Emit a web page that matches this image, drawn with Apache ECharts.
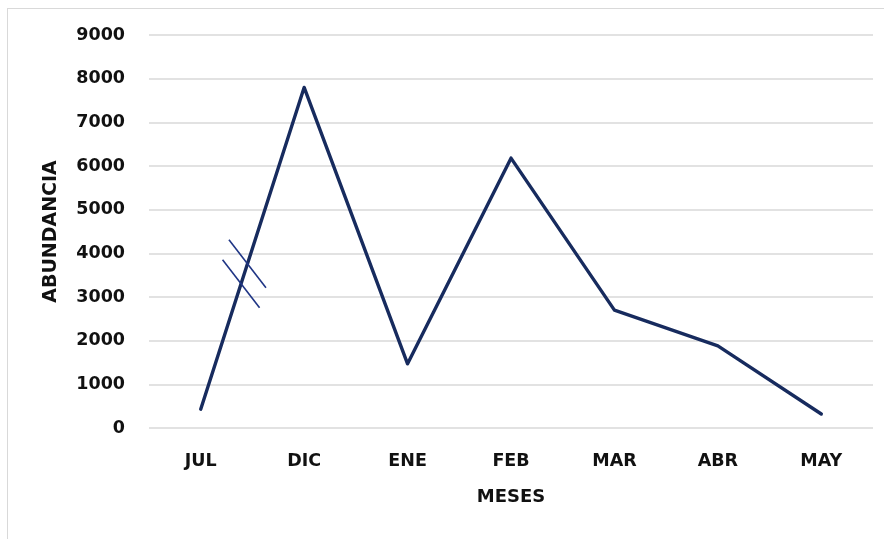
<!DOCTYPE html>
<html>
<head>
<meta charset="utf-8">
<script src="https://cdn.jsdelivr.net/npm/echarts@6/dist/echarts.min.js"></script>
<style>
  html, body { margin: 0; padding: 0; background: #fff; }
  #frame { position: absolute; left: 7px; top: 8px; width: 900px; height: 560px; border: 1px solid #d9d9d9; box-sizing: border-box; }
  #chart { position: absolute; left: 0; top: 0; width: 884px; height: 539px; }
</style>
</head>
<body>
<div id="frame"></div>
<div id="chart"></div>
<script>
// Monthly abundance
const months = ['JUL', 'DIC', 'ENE', 'FEB', 'MAR', 'ABR', 'MAY'];
const abundance = [430, 7800, 1470, 6180, 2700, 1880, 320];
const yTicks = { min: 0, max: 9000, interval: 1000 };

const FONT = '"DejaVu Sans"';
const TEXT = '#111';
const LINE_COLOR = '#172b5e';

const chart = echarts.init(document.getElementById('chart'), null, { renderer: 'canvas' });
chart.setOption({
  backgroundColor: 'transparent',
  animation: false,
  grid: { left: 149, right: 11, top: 35, bottom: 111, containLabel: false },
  xAxis: {
    type: 'category',
    data: months,
    boundaryGap: true,
    name: 'MESES',
    nameLocation: 'middle',
    nameGap: 60,
    nameTextStyle: { fontFamily: FONT, fontWeight: 'bold', fontSize: 18, color: TEXT },
    axisLine: { show: false },
    axisTick: { show: false },
    axisLabel: { fontFamily: FONT, fontWeight: 'bold', fontSize: 17.5, color: TEXT, margin: 24 }
  },
  yAxis: {
    type: 'value',
    min: yTicks.min, max: yTicks.max, interval: yTicks.interval,
    name: 'ABUNDANCIA',
    nameLocation: 'middle',
    nameGap: 88,
    nameRotate: 90,
    nameTextStyle: { fontFamily: FONT, fontWeight: 'bold', fontSize: 19, color: TEXT },
    axisLine: { show: false },
    axisTick: { show: false },
    splitLine: { lineStyle: { color: '#d9d9d9', width: 1.5 } },
    axisLabel: {
      fontFamily: FONT, fontWeight: 'bold', fontSize: 17.5, color: TEXT, margin: 24,
      formatter: v => String(v)
    }
  },
  series: [{
    type: 'line',
    data: abundance,
    symbol: 'none',
    lineStyle: { color: LINE_COLOR, width: 3.4, cap: 'round', join: 'round' }
  }]
});

// Axis-break marks across the first segment (JUL -> DIC)
function drawBreak() {
  const p0 = chart.convertToPixel({ seriesIndex: 0 }, [0, abundance[0]]);
  const p1 = chart.convertToPixel({ seriesIndex: 0 }, [1, abundance[1]]);
  const at = t => [p0[0] + (p1[0] - p0[0]) * t, p0[1] + (p1[1] - p0[1]) * t];
  const half = [18.5, 24];
  const marks = [0.39, 0.452].map(t => {
    const c = at(t);
    return {
      type: 'line',
      shape: { x1: c[0] - half[0], y1: c[1] - half[1], x2: c[0] + half[0], y2: c[1] + half[1] },
      style: { stroke: '#1f3585', lineWidth: 1.6 },
      z: 10
    };
  });
  chart.setOption({ graphic: { elements: marks } });
}
drawBreak();
</script>
</body>
</html>
